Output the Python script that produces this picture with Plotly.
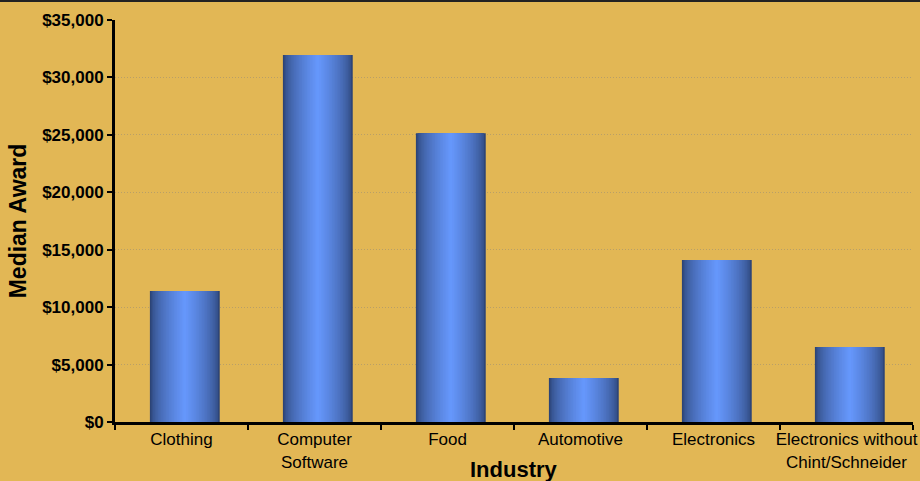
import plotly.graph_objects as go

categories = ["Clothing", "Computer<br>Software", "Food", "Automotive", "Electronics",
              "Electronics without<br>Chint/Schneider"]
median_award = [11400, 31950, 25150, 3830, 14100, 6520]
y_ticks = [0, 5000, 10000, 15000, 20000, 25000, 30000, 35000]
y_tick_text = ["$" + format(v, ",") for v in y_ticks]

W, H = 920, 481
ML, MR, MT, MB = 115, 7, 20, 59
BG = "#E2B755"
BAR_W = 0.525
SHIFT = 0.025

dark = (44, 68, 118)
light = (103, 153, 255)

fig = go.Figure()
N = 22
for k in range(N):
    t = k / N  # 0 at edge, ->1 at centre
    f = t ** 0.6
    c = tuple(round(dark[i] + (light[i] - dark[i]) * f) for i in range(3))
    w = BAR_W * (1 - t)
    fig.add_trace(go.Bar(
        x=categories, y=median_award,
        width=w, offset=-w / 2 + SHIFT,
        marker=dict(color="rgb(%d,%d,%d)" % c, line=dict(width=0)),
        hoverinfo="skip" if k else None,
        showlegend=False,
    ))

plot_w = W - ML - MR
plot_h = H - MT - MB
fig.add_shape(type="line", xref="paper", yref="paper",
              x0=-ML / plot_w, x1=1 + MR / plot_w,
              y0=1 + (MT - 1) / plot_h, y1=1 + (MT - 1) / plot_h,
              line=dict(color="#222222", width=2))

fig.add_annotation(text="<b>Industry</b>", xref="paper", yref="paper",
                   x=0.5, y=-(470 - (H - MB)) / plot_h, xanchor="center", yanchor="middle",
                   showarrow=False, font=dict(size=22, color="black"))

fig.update_layout(
    width=W, height=H,
    margin=dict(l=ML, r=MR, t=MT, b=MB, autoexpand=False),
    paper_bgcolor=BG, plot_bgcolor=BG,
    barmode="overlay",
    font=dict(family="Liberation Sans, Arial, sans-serif", color="black"),
    xaxis=dict(
        type="category",
        tickson="boundaries",
        tickangle=0,
        automargin=False,
        ticks="outside", ticklen=5, tickwidth=2, tickcolor="black",
        showline=True, linecolor="black", linewidth=3,
        showgrid=False,
        tickfont=dict(size=17),
    ),
    yaxis=dict(
        range=[0, 35000],
        automargin=False,
        tickvals=y_ticks,
        ticktext=y_tick_text,
        ticks="outside", ticklen=5, tickwidth=2, tickcolor="black",
        showline=True, linecolor="black", linewidth=3,
        showgrid=True, gridcolor="rgba(150,140,120,0.55)", griddash="1px,2px", gridwidth=1,
        zeroline=False,
        tickfont=dict(size=17, weight="bold"),
        title=dict(text="<b>Median Award</b>", font=dict(size=23), standoff=10),
    ),
)

fig.write_html("out.html")
